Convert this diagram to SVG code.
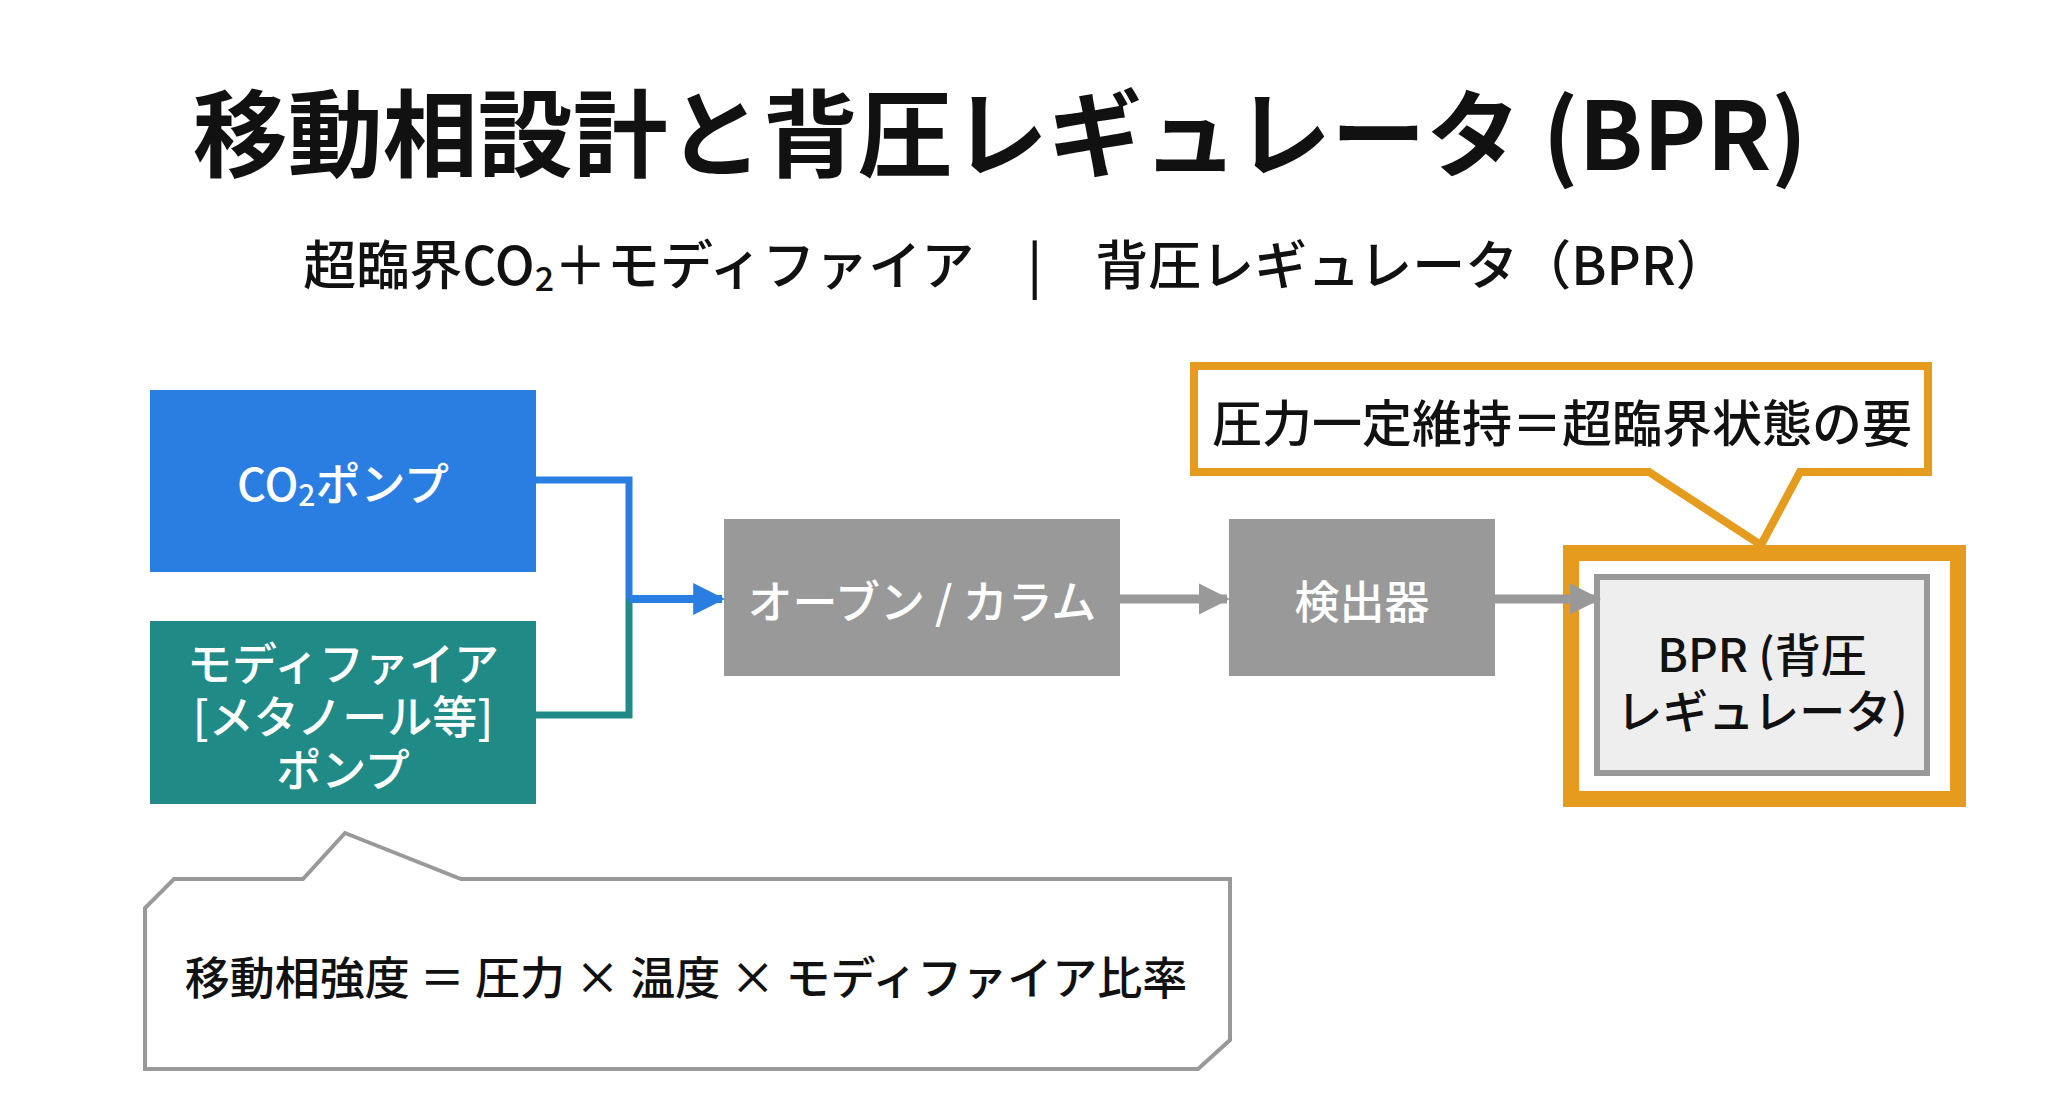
<svg xmlns="http://www.w3.org/2000/svg" width="2064" height="1101" viewBox="0 0 2064 1101">
<style>
text{font-family:"Noto Sans CJK JP","Noto Sans",sans-serif;text-anchor:middle;dominant-baseline:central;font-weight:500}
.w{fill:#fff;font-size:45px}
.k{fill:#111;font-size:46px}
</style>
<defs>
<marker id="ab" viewBox="0 0 10 10" refX="9" refY="5" markerWidth="4" markerHeight="4" orient="auto"><path d="M0,0L10,5L0,10z" fill="#2a7de1"/></marker>
<marker id="ag" viewBox="0 0 10 10" refX="9" refY="5" markerWidth="3.5" markerHeight="3.5" orient="auto"><path d="M0,0L10,5L0,10z" fill="#999"/></marker>
</defs>
<rect width="2064" height="1101" fill="#fff"/>
<text x="1000" y="128" style="font-size:95px;font-weight:700" fill="#111">移動相設計と背圧レギュレータ (BPR)</text>
<text x="1016" y="262" style="font-size:53px" fill="#111">超臨界CO<tspan font-size="34" dy="14">2</tspan><tspan dy="-14">＋モディファイア　|　背圧レギュレータ（BPR）</tspan></text>
<g id="co2"><rect x="150" y="390" width="386" height="182" fill="#2a7de1"/><text class="w" x="343" y="481">CO<tspan font-size="30" dy="12">2</tspan><tspan dy="-12">ポンプ</tspan></text></g>
<g id="modifier"><rect x="150" y="621" width="386" height="183" fill="#1f8a86"/><text class="w" x="343" y="661">モディファイア</text><text class="w" x="343" y="714">[メタノール等]</text><text class="w" x="343" y="767">ポンプ</text></g>
<g id="oven"><rect x="724" y="519" width="396" height="157" fill="#999"/><text class="w" x="922" y="599">オーブン / カラム</text></g>
<g id="detector"><rect x="1229" y="519" width="266" height="157" fill="#999"/><text class="w" x="1362" y="599">検出器</text></g>
<g id="bpr"><rect x="1571" y="553" width="387" height="246" fill="#fff" stroke="#e59b1e" stroke-width="16"/><rect x="1597" y="577" width="330" height="196" fill="#eee" stroke="#999" stroke-width="6"/><text class="k" x="1762" y="652">BPR (背圧</text><text class="k" x="1762" y="708">レギュレータ)</text></g>
<g id="callout"><path d="M1194,366H1928V472H1800L1761,545L1649,472H1194Z" fill="#fff" stroke="#e59b1e" stroke-width="8"/><text class="k" x="1562" y="420" style="font-size:50px">圧力一定維持＝超臨界状態の要</text></g>
<g id="note"><path d="M145,1069V908L174,879H303L345,833L461,879H1230V1040L1198,1069Z" fill="#fff" stroke="#999" stroke-width="4"/><text class="k" x="686" y="975" style="font-size:45px">移動相強度 ＝ 圧力 × 温度 × モディファイア比率</text></g>
<g id="connectors" fill="none">
<path d="M536,480H629V599" stroke="#2a7de1" stroke-width="7"/>
<path d="M536,715H629V599" stroke="#1f8a86" stroke-width="7"/>
<path d="M629,599H722" stroke="#2a7de1" stroke-width="8" marker-end="url(#ab)"/>
<path d="M1120,599H1227" stroke="#999" stroke-width="9" marker-end="url(#ag)"/>
<path d="M1495,599H1598" stroke="#999" stroke-width="9" marker-end="url(#ag)"/>
</g>
</svg>
